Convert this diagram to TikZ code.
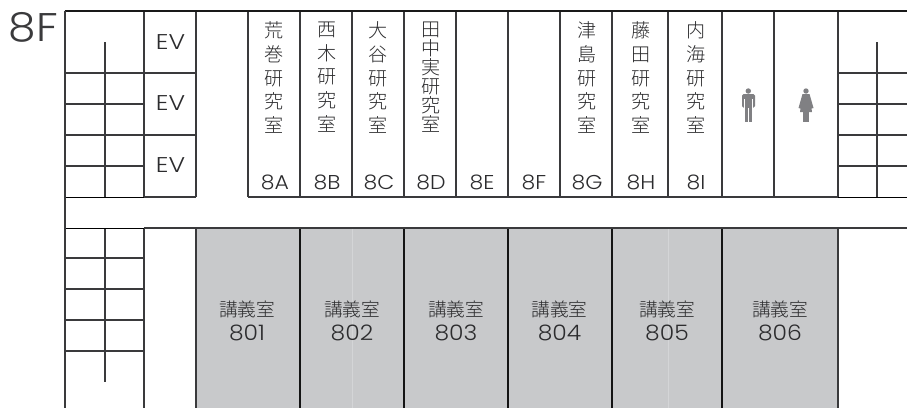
\documentclass[tikz,border=0pt]{standalone}
\usepackage{fontspec}
\setmainfont{Poppins}[UprightFont=* Light]
\newfontfamily\cjk{Noto Sans CJK JP}[UprightFont=* Light]
\newfontfamily\widea{Poppins}[UprightFont=* Light,FakeStretch=1.1]
\newfontfamily\wideb{Poppins}[UprightFont=* Light,FakeStretch=1.18]
\definecolor{wall}{HTML}{3A3A3C}
\definecolor{roomgray}{HTML}{C8C9CB}
\definecolor{seam}{HTML}{D4D5D7}
\definecolor{ink}{HTML}{2C2C2E}
\definecolor{icon}{HTML}{808083}
\tikzset{
  x=0.75pt,y=-0.75pt,
  wallline/.style={draw=wall,line width=1.05pt},
  darkline/.style={draw=black!92,line width=1.05pt},
  heavy/.style={draw=black!90,line width=1.5pt},
  thin/.style={draw=black,line width=0.7pt},
  seamline/.style={draw=seam,line width=0.5pt},
  roomfill/.style={fill=roomgray,draw=none},
  vlabel/.style={text=ink,font=\cjk\fontsize{14.3}{17.8}\selectfont,align=center,anchor=north,inner sep=0pt,text width=20pt},
  vtight/.style={vlabel,font=\cjk\fontsize{14.3}{14.2}\selectfont},
  dlabel/.style={text=ink,font=\cjk\fontsize{14}{14}\selectfont,anchor=center,inner sep=0pt},
  roomid/.style={text=ink,font=\widea\fontsize{15}{15}\selectfont,anchor=center,inner sep=0pt},
  evlabel/.style={text=ink,font=\wideb\fontsize{16}{16}\selectfont,anchor=center,inner sep=0pt},
  numlabel/.style={text=ink,font=\widea\fontsize{16}{16}\selectfont,anchor=center,inner sep=0pt},
  floorlabel/.style={text=wall,font=\widea\fontsize{30}{30}\selectfont,anchor=center,inner sep=0pt},
  iconfill/.style={fill=icon,draw=none}
}
\begin{document}
\begin{tikzpicture}
\useasboundingbox (0,0) rectangle (907,408);
\fill[white] (0,0) rectangle (907,408);
% lecture rooms
\fill[roomfill] (196,228) rectangle (838,408);
\foreach \x in {352,668} \draw[seamline] (\x,228) -- (\x,408);
% upper block
\foreach \y in {73,104,135,166}
  {\draw[wallline] (65,\y) -- (144,\y); \draw[wallline] (838,\y) -- (907,\y);}
\draw[wallline] (144,73) -- (196,73);
\draw[wallline] (144,135) -- (196,135);
\draw[wallline] (105,42) -- (105,197);
\draw[wallline] (877,42) -- (877,197);
\foreach \x in {144,196,248,300,352,404,456,508,560,612,668,722,774,838}
  \draw[wallline] (\x,11) -- (\x,197);
\draw[wallline] (144,197) -- (196,197);
\draw[wallline] (248,197) -- (838,197);
\draw[thin] (65,197) -- (144,197);
\draw[thin] (838,197) -- (907,197);
\draw[heavy] (64.5,11) -- (907,11);
% lower block
\foreach \y in {258,289,320,351} \draw[wallline] (65,\y) -- (144,\y);
\draw[wallline] (105,228) -- (105,382);
\foreach \x in {144,196,838}
  \draw[wallline] (\x,228) -- (\x,408);
\foreach \x in {300,404,508,612,722}
  \draw[darkline] (\x,228) -- (\x,408);
\draw[thin] (65,228) -- (144,228);
\draw[wallline] (144,228) -- (907,228);
\draw[wallline] (65,11) -- (65,408);
% labels
\node[floorlabel] (floor) at (33.5,27) {8F};
\node[evlabel] (ev1) at (170.5,42) {EV};
\node[evlabel] (ev2) at (170.5,103) {EV};
\node[evlabel] (ev3) at (170.5,165) {EV};
\node[vlabel] (a) at (274.5,21.5) {荒\\巻\\研\\究\\室};
\node[vlabel] (b) at (327,21.5) {西\\木\\研\\究\\室};
\node[vlabel] (c) at (378.5,21.5) {大\\谷\\研\\究\\室};
\node[vtight] (d) at (431,21.5) {田\\中\\実\\研\\究\\室};
\node[vlabel] (g) at (587,21.5) {津\\島\\研\\究\\室};
\node[vlabel] (h) at (641,21.5) {藤\\田\\研\\究\\室};
\node[vlabel] (i) at (696,21.5) {内\\海\\研\\究\\室};
\node[roomid] (ra) at (275,182) {8A};
\node[roomid] (rb) at (327,182) {8B};
\node[roomid] (rc) at (379,182) {8C};
\node[roomid] (rd) at (431,182) {8D};
\node[roomid] (re) at (482,182) {8E};
\node[roomid] (rf) at (534,182) {8F};
\node[roomid] (rg) at (587,182) {8G};
\node[roomid] (rh) at (641,182) {8H};
\node[roomid] (ri) at (696,182) {8I};
% lecture labels
\foreach \n/\x/\t in {l1/247/801,l2/352/802,l3/456/803,l4/559.5/804,l5/667/805,l6/780/806}{
  \node[dlabel] (\n a) at (\x,309) {講義室};
  \node[numlabel] (\n b) at (\x,332.5) {\t};
}
% man
\fill[iconfill] (748.3,91) circle (2.7);
\fill[iconfill,rounded corners=1pt] (742,94.2) rectangle (755,107.5);
\fill[iconfill] (744.5,100) rectangle (752,122);
\fill[white] (747.9,108) rectangle (748.7,123);
\fill[white] (744.1,99) rectangle (744.7,108);
\fill[white] (751.9,99) rectangle (752.5,108);
% woman
\fill[iconfill] (806,91) circle (2.7);
\fill[iconfill] (802.5,94) -- (809.5,94) -- (813.5,108) -- (811.5,108.5) -- (812,112) -- (800,112) -- (800.5,108.5) -- (798.5,108) -- cycle;
\fill[iconfill] (803,112) rectangle (805.6,122);
\fill[iconfill] (806.4,112) rectangle (809,122);
\end{tikzpicture}
\end{document}
